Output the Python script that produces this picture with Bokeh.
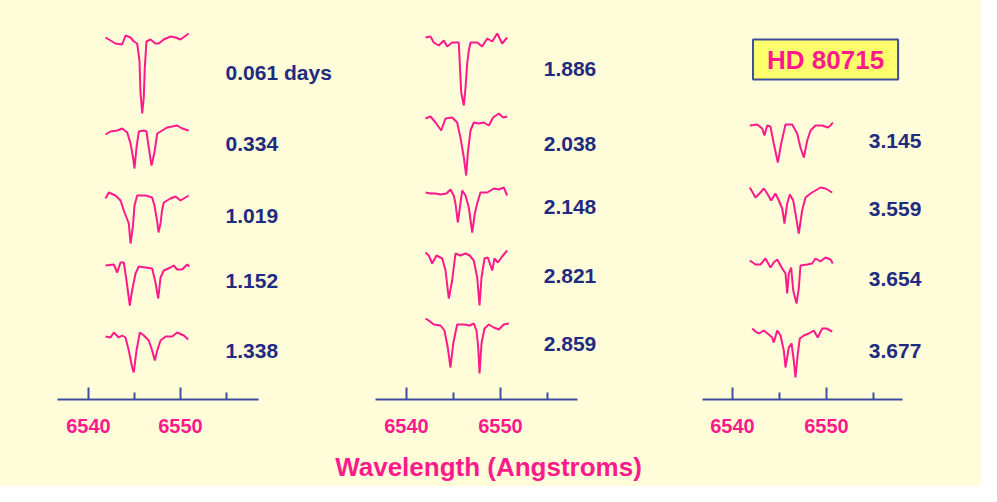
import numpy as np
from bokeh.plotting import figure
from bokeh.layouts import row, column
from bokeh.models import Range1d, FixedTicker, Label
from bokeh.core.properties import value
from bokeh.embed import file_html
from bokeh.resources import INLINE

# ---------------- data ----------------
# Panel 1
p1_labels = ["0.061 days", "0.334", "1.019", "1.152", "1.338"]
wl_0061 = [6541.85, 6542.39, 6542.93, 6543.66, 6544.02, 6544.57, 6544.92, 6545.29, 6545.54, 6545.65, 6545.84, 6546.01, 6546.12, 6546.30, 6546.74, 6547.28, 6547.64, 6548.18, 6548.91, 6549.46, 6550.00, 6550.90]
fx_0061 = [1.03, 1.00, 0.97, 0.96, 1.05, 1.03, 0.99, 0.97, 0.80, 0.48, 0.27, 0.43, 0.73, 0.99, 1.01, 0.97, 0.97, 1.01, 1.04, 1.03, 1.01, 1.07]
wl_0334 = [6541.85, 6542.39, 6543.12, 6543.66, 6544.21, 6544.57, 6544.86, 6545.00, 6545.22, 6545.47, 6546.01, 6546.30, 6546.55, 6546.85, 6547.17, 6547.47, 6548.01, 6548.55, 6549.10, 6549.64, 6550.18, 6550.90]
fx_0334 = [0.96, 0.99, 1.00, 1.02, 0.98, 0.87, 0.72, 0.62, 0.83, 0.99, 1.00, 0.99, 0.83, 0.65, 0.78, 0.97, 1.00, 1.03, 1.04, 1.05, 1.02, 1.00]
wl_1019 = [6541.85, 6542.21, 6542.93, 6543.48, 6543.84, 6544.38, 6544.57, 6544.84, 6545.00, 6545.29, 6546.20, 6546.92, 6547.17, 6547.45, 6547.61, 6547.83, 6547.99, 6548.18, 6548.91, 6549.46, 6550.00, 6550.90]
fx_1019 = [0.98, 1.04, 1.01, 0.96, 0.86, 0.73, 0.53, 0.71, 0.91, 1.01, 1.01, 0.99, 0.91, 0.76, 0.64, 0.73, 0.86, 0.94, 0.98, 1.00, 0.96, 1.01]
wl_1152 = [6541.85, 6542.75, 6543.12, 6543.48, 6543.84, 6544.13, 6544.49, 6544.74, 6545.11, 6545.47, 6546.20, 6546.92, 6547.28, 6547.58, 6547.83, 6548.18, 6548.91, 6549.27, 6549.64, 6550.18, 6550.73, 6550.98]
fx_1152 = [1.00, 1.01, 0.93, 1.03, 1.03, 0.85, 0.60, 0.75, 0.92, 0.99, 0.98, 0.97, 0.83, 0.67, 0.88, 0.95, 0.98, 1.00, 0.96, 0.96, 1.01, 0.99]
wl_1338 = [6541.85, 6542.39, 6542.75, 6543.29, 6543.66, 6544.02, 6544.38, 6544.75, 6544.92, 6545.22, 6545.58, 6546.01, 6546.55, 6546.92, 6547.21, 6547.47, 6547.83, 6548.37, 6549.10, 6549.64, 6550.36, 6550.84]
fx_1338 = [0.99, 0.98, 1.03, 0.98, 1.00, 0.98, 0.85, 0.68, 0.63, 0.85, 1.03, 1.00, 0.95, 0.85, 0.75, 0.85, 0.95, 0.99, 0.99, 1.03, 1.00, 0.96]

# Panel 2
p2_labels = ["1.886", "2.038", "2.148", "2.821", "2.859"]
wl_1886 = [6542.02, 6542.55, 6542.90, 6543.44, 6543.97, 6544.33, 6544.86, 6545.56, 6545.67, 6545.82, 6546.10, 6546.28, 6546.46, 6546.63, 6546.81, 6547.52, 6548.05, 6548.59, 6549.12, 6549.65, 6550.18, 6550.71]
fx_1886 = [1.05, 1.06, 1.00, 0.97, 1.02, 0.96, 1.00, 1.00, 0.79, 0.50, 0.37, 0.55, 0.79, 0.92, 1.00, 1.00, 0.96, 1.04, 1.01, 1.09, 0.99, 1.05]
wl_2038 = [6542.02, 6542.55, 6543.09, 6543.69, 6544.15, 6544.86, 6545.39, 6545.74, 6546.10, 6546.35, 6546.52, 6546.81, 6547.16, 6547.69, 6548.22, 6548.76, 6549.22, 6549.82, 6550.29, 6550.71]
fx_2038 = [1.02, 1.04, 0.98, 0.90, 1.02, 1.03, 0.98, 0.83, 0.63, 0.45, 0.67, 0.90, 0.98, 0.97, 0.98, 0.95, 1.03, 1.07, 1.03, 1.04]
wl_2148 = [6542.02, 6542.55, 6543.09, 6543.62, 6544.26, 6544.68, 6545.03, 6545.21, 6545.46, 6545.74, 6545.93, 6546.28, 6546.63, 6546.99, 6547.27, 6547.52, 6547.87, 6548.59, 6549.29, 6549.82, 6550.35, 6550.71]
fx_2148 = [1.00, 0.99, 0.99, 0.98, 0.99, 1.03, 0.97, 0.89, 0.70, 0.89, 1.02, 0.97, 0.85, 0.60, 0.79, 0.89, 1.00, 1.00, 1.04, 1.03, 1.05, 0.97]
wl_2821 = [6542.02, 6542.37, 6542.73, 6543.19, 6543.80, 6544.15, 6544.50, 6544.86, 6545.21, 6545.74, 6546.28, 6546.73, 6547.16, 6547.52, 6547.77, 6547.98, 6548.30, 6548.65, 6549.12, 6549.36, 6549.71, 6550.18, 6550.71]
fx_2821 = [1.03, 1.00, 0.92, 1.00, 0.97, 0.85, 0.57, 0.75, 1.02, 1.00, 1.02, 1.00, 0.95, 0.78, 0.50, 0.78, 0.97, 0.98, 0.85, 0.97, 0.93, 0.99, 1.05]
wl_2859 = [6542.02, 6542.37, 6542.90, 6543.62, 6544.04, 6544.39, 6544.68, 6544.97, 6545.39, 6546.10, 6546.73, 6547.16, 6547.45, 6547.63, 6547.77, 6547.98, 6548.30, 6548.76, 6549.29, 6549.82, 6550.35, 6550.88]
fx_2859 = [1.06, 1.04, 1.00, 0.99, 0.94, 0.77, 0.57, 0.81, 1.00, 1.00, 0.99, 1.01, 0.94, 0.77, 0.51, 0.81, 0.96, 1.00, 0.97, 0.95, 1.00, 1.01]

# Panel 3
p3_labels = ["3.145", "3.559", "3.654", "3.677"]
wl_3145 = [6541.84, 6542.63, 6543.16, 6543.40, 6543.69, 6544.04, 6544.39, 6544.82, 6545.18, 6545.64, 6546.35, 6546.88, 6547.23, 6547.59, 6547.95, 6548.30, 6548.83, 6549.54, 6550.14, 6550.43, 6550.67]
fx_3145 = [1.00, 1.01, 0.97, 0.90, 1.00, 0.99, 0.82, 0.63, 0.82, 1.01, 1.01, 0.92, 0.78, 0.68, 0.85, 0.95, 1.00, 1.00, 0.98, 1.00, 1.03]
wl_3559 = [6541.84, 6542.45, 6542.98, 6543.33, 6543.69, 6544.12, 6544.57, 6544.93, 6545.29, 6545.53, 6545.82, 6546.10, 6546.46, 6546.70, 6547.05, 6547.41, 6547.77, 6548.30, 6548.83, 6549.36, 6549.89, 6550.61]
fx_3559 = [1.05, 0.95, 1.00, 1.04, 0.99, 0.92, 0.99, 0.92, 0.84, 0.69, 0.89, 0.98, 0.92, 0.79, 0.59, 0.82, 0.95, 0.99, 1.02, 1.05, 1.04, 1.00]
wl_3654 = [6541.84, 6542.45, 6542.98, 6543.51, 6544.04, 6544.39, 6544.76, 6545.29, 6545.64, 6545.82, 6545.99, 6546.24, 6546.46, 6546.81, 6547.05, 6547.23, 6547.95, 6548.48, 6548.83, 6549.36, 6549.89, 6550.43, 6550.67]
fx_3654 = [1.02, 0.98, 0.98, 1.04, 0.95, 1.00, 1.03, 0.94, 0.89, 0.69, 0.89, 0.95, 0.72, 0.59, 0.74, 0.97, 0.98, 0.99, 1.04, 1.01, 1.05, 1.03, 0.99]
wl_3677 = [6542.10, 6542.45, 6542.80, 6543.33, 6543.86, 6544.22, 6544.39, 6544.76, 6545.11, 6545.46, 6545.64, 6545.99, 6546.28, 6546.52, 6546.70, 6546.95, 6547.16, 6547.59, 6548.12, 6548.65, 6549.07, 6549.54, 6550.00, 6550.61]
fx_3677 = [1.04, 1.01, 0.99, 1.02, 0.98, 0.95, 0.90, 1.02, 0.97, 0.82, 0.65, 0.85, 0.89, 0.72, 0.55, 0.79, 0.94, 0.97, 0.99, 1.02, 0.95, 1.04, 1.04, 1.01]

# vertical offsets of each spectrum (stacking) and label heights
p1_offsets = [2.59, 1.69, 1.03, 0.34, -0.36]
p2_offsets = [2.57, 1.79, 1.07, 0.44, -0.25]
p3_offsets = [1.74, 1.07, 0.37, -0.33]
p1_label_y = [3.27, 2.56, 1.84, 1.19, 0.49]
p2_label_y = [3.31, 2.56, 1.93, 1.24, 0.56]
p3_label_y = [2.59, 1.91, 1.21, 0.49]
label_wl = [6554.9, 6554.6, 6554.5]

major_ticks = [6540, 6550]
minor_ticks = [6545, 6555]
star_name = "HD 80715"
x_title = "Wavelength (Angstroms)"

# ---------------- style ----------------
BG = "#FFFCD9"
PINK = "#FF1A8C"
NAVY = "#1F2B7E"
AXBLUE = "#3E4E9E"
FONT = "Liberation Sans"

W = 981
TOP_H = 446
FRAME_H = 399
STRIP_H = 40
widths = [347, 293, 341]
xranges = [(6530.435, 6568.152), (6533.723, 6564.894), (6530.213, 6566.489)]
bounds = [(6536.63, 6558.48), (6536.70, 6558.19), (6536.81, 6558.09)]

panels = [
    list(zip(p1_labels, [wl_0061, wl_0334, wl_1019, wl_1152, wl_1338],
             [fx_0061, fx_0334, fx_1019, fx_1152, fx_1338], p1_offsets, p1_label_y)),
    list(zip(p2_labels, [wl_1886, wl_2038, wl_2148, wl_2821, wl_2859],
             [fx_1886, fx_2038, fx_2148, fx_2821, fx_2859], p2_offsets, p2_label_y)),
    list(zip(p3_labels, [wl_3145, wl_3559, wl_3654, wl_3677],
             [fx_3145, fx_3559, fx_3654, fx_3677], p3_offsets, p3_label_y)),
]

figs = []
for i, spectra in enumerate(panels):
    p = figure(width=widths[i], height=TOP_H, output_backend="svg", toolbar_location=None,
               x_range=Range1d(*xranges[i]), y_range=Range1d(0, 3.99),
               y_axis_location=None, min_border_left=0, min_border_right=0,
               min_border_top=0, min_border_bottom=TOP_H - FRAME_H,
               styles={"background-color": BG})
    p.background_fill_color = BG
    p.border_fill_color = BG
    p.outline_line_color = None
    p.grid.visible = False

    for lab, wl, fx, off, ly in spectra:
        p.line(np.array(wl), np.array(fx) + off, line_color=PINK, line_width=2)
        p.text(x=[label_wl[i]], y=[ly], text=[lab], text_font=value(FONT),
               text_font_style="bold", text_font_size="21px", text_color=NAVY,
               text_align="left", text_baseline="middle")

    ax = p.xaxis[0]
    ax.ticker = FixedTicker(ticks=major_ticks, minor_ticks=minor_ticks)
    ax.bounds = bounds[i]
    ax.axis_line_color = AXBLUE
    ax.axis_line_width = 2
    ax.major_tick_line_color = AXBLUE
    ax.major_tick_line_width = 2
    ax.minor_tick_line_color = AXBLUE
    ax.minor_tick_line_width = 2
    ax.major_tick_in = 12
    ax.major_tick_out = 0
    ax.minor_tick_in = 7
    ax.minor_tick_out = 0
    ax.major_label_standoff = 19
    ax.major_label_text_color = PINK
    ax.major_label_text_font = FONT
    ax.major_label_text_font_style = "bold"
    ax.major_label_text_font_size = "20px"
    if i == 2:
        p.add_layout(Label(x=6549.9, y=3.40, text=star_name, text_align="center",
                           text_baseline="middle", text_font=FONT, text_font_style="bold",
                           text_font_size="26px", text_color=PINK,
                           background_fill_color="#FFFF6E", border_line_color=AXBLUE,
                           border_line_width=2, padding=(14, 5)))
    figs.append(p)

# strip carrying the common x-axis title
strip = figure(width=W, height=STRIP_H, output_backend="svg", toolbar_location=None,
               x_range=Range1d(0, W), y_range=Range1d(0, STRIP_H),
               x_axis_location=None, y_axis_location=None,
               min_border_left=0, min_border_right=0, min_border_top=0, min_border_bottom=0,
               styles={"background-color": BG})
strip.background_fill_color = BG
strip.border_fill_color = BG
strip.outline_line_color = None
strip.grid.visible = False
strip.add_layout(Label(x=488, y=STRIP_H - 20, text=x_title, text_align="center",
                       text_baseline="middle", text_font=FONT, text_font_style="bold",
                       text_font_size="26px", text_color=PINK))

layout = column(row(*figs, spacing=0, styles={"background-color": BG}), strip,
                spacing=0, styles={"background-color": BG})
open("out.html", "w").write(file_html(layout, INLINE))
